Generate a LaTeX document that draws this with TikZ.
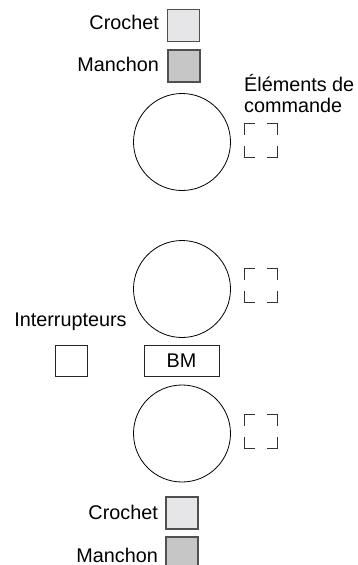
\documentclass[tikz,border=0pt]{standalone}
\usepackage{fontspec}
\setmainfont{Liberation Sans}
\definecolor{lightbox}{HTML}{E6E6E8}
\definecolor{darkbox}{HTML}{C6C6C6}
\definecolor{edge}{HTML}{505050}
\begin{document}
\begin{tikzpicture}[x=1pt,y=-1pt,
  every node/.style={font=\fontsize{19.8}{22}\selectfont, inner sep=0pt},
  lbl/.style={anchor=east},
  swatch/.style={draw=edge, line width=1.1pt, minimum width=32pt, minimum height=32pt},
  crochetbox/.style={swatch, fill=lightbox},
  manchonbox/.style={swatch, fill=darkbox},
  wheel/.style={circle, draw=black, line width=0.8pt, minimum size=97pt},
  plainbox/.style={draw=black!85, line width=0.9pt, minimum height=31pt},
  cornermark/.style={minimum width=33pt, minimum height=33pt},
  cornerline/.style={draw=black!80, line width=1pt}
]
\useasboundingbox (0,0) rectangle (358,565);
\clip (0,0) rectangle (358,565);
% top legend
\node[crochetbox] (c1) at (183.5,25.5) {};
\node[lbl] (tc1) at (159,22) {Crochet};
\node[manchonbox] (m1) at (184,66) {};
\node[lbl] (tm1) at (159,64) {Manchon};
% elements de commande label
\node[anchor=north west, align=left, font=\fontsize{19.8}{21.5}\selectfont] (el) at (244,74) {Éléments de\\commande};
% wheels
\node[wheel] (w1) at (182,142) {};
\node[wheel] (w2) at (182,289) {};
\node[wheel] (w3) at (182,433.5) {};
% corner marks
\node[cornermark] (k1) at (261,140.5) {};
\node[cornermark] (k2) at (261,285.5) {};
\node[cornermark] (k3) at (261,431.5) {};
\foreach \n in {k1,k2,k3}{
  \draw[cornerline] ([yshift=-11pt]\n.north west) -- (\n.north west) -- ([xshift=11pt]\n.north west);
  \draw[cornerline] ([yshift=-11pt]\n.north east) -- (\n.north east) -- ([xshift=-11pt]\n.north east);
  \draw[cornerline] ([yshift=11pt]\n.south west) -- (\n.south west) -- ([xshift=11pt]\n.south west);
  \draw[cornerline] ([yshift=11pt]\n.south east) -- (\n.south east) -- ([xshift=-11pt]\n.south east);
}
% interrupteurs
\node (int) at (70.5,322) {Interrupteurs};
\node[plainbox, minimum width=32pt] (sw) at (71,360.5) {};
\node[plainbox, minimum width=75pt] (bm) at (181.5,360.5) {BM};
% bottom legend
\node[crochetbox] (c2) at (182,513) {};
\node[lbl] (tc2) at (158,512) {Crochet};
\node[manchonbox] (m2) at (182,553) {};
\node[lbl] (tm2) at (158,555) {Manchon};
\end{tikzpicture}
\end{document}
